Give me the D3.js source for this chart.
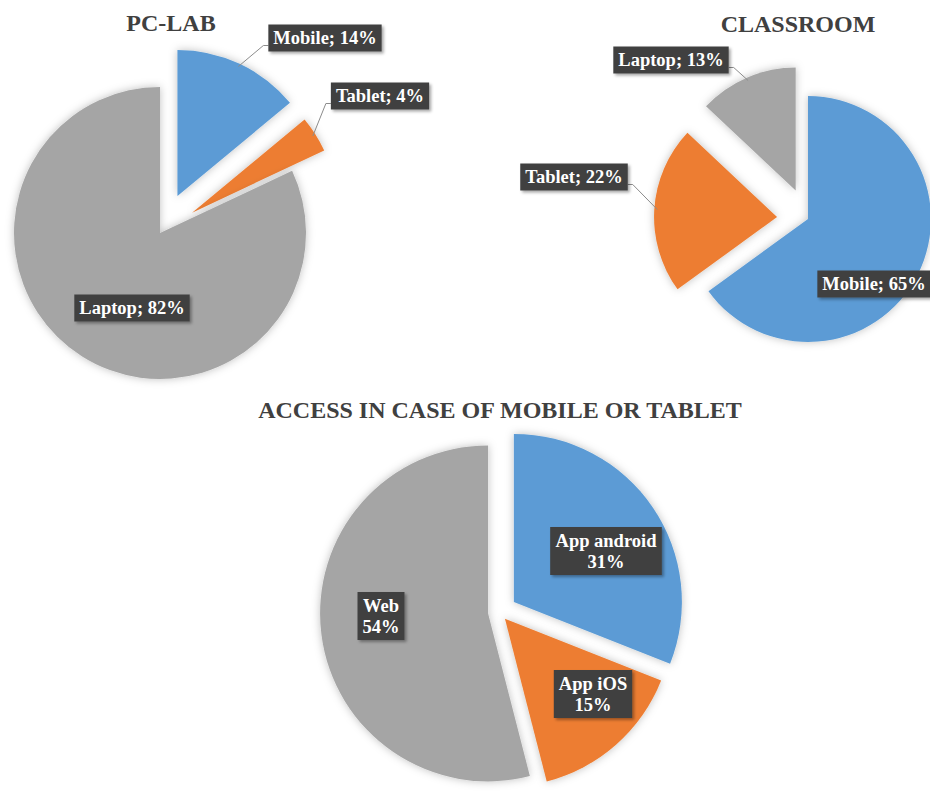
<!DOCTYPE html>
<html>
<head>
<meta charset="utf-8">
<script src="https://cdn.jsdelivr.net/npm/d3@7"></script>
<style>
  body { margin: 0; background: #fff; }
  svg { display: block; font-family: "Liberation Serif", "Times New Roman", serif; }
</style>
</head>
<body>
<div id="chart"></div>
<script>
// data
const pcLabCategories = ["Mobile", "Tablet", "Laptop"];
const pcLabValues = [14, 4, 82];
const classroomCategories = ["Mobile", "Tablet", "Laptop"];
const classroomValues = [65, 22, 13];
const accessCategories = ["App android", "App iOS", "Web"];
const accessValues = [31, 15, 54];

const colors = { "Mobile": "#5b9bd5", "Tablet": "#ed7d31", "Laptop": "#a5a5a5",
                 "App android": "#5b9bd5", "App iOS": "#ed7d31", "Web": "#a5a5a5" };

var width = 930, height = 792;
var svg = d3.select("#chart").append("svg")
    .attr("width", width)
    .attr("height", height);

var defs = svg.append("defs");
defs.append("filter").attr("id", "pieShadow")
    .attr("x", "-20%").attr("y", "-20%").attr("width", "140%").attr("height", "140%")
    .append("feDropShadow")
    .attr("dx", 0).attr("dy", 0).attr("stdDeviation", 4)
    .attr("flood-color", "#000").attr("flood-opacity", 0.25);
defs.append("filter").attr("id", "boxShadow")
    .attr("x", "-20%").attr("y", "-30%").attr("width", "140%").attr("height", "160%")
    .append("feDropShadow")
    .attr("dx", 2).attr("dy", 2).attr("stdDeviation", 1.5)
    .attr("flood-color", "#000").attr("flood-opacity", 0.35);

function pieChart(opts) {
    var data = opts.categories.map((c, i) => ({ name: c, value: opts.values[i] }));
    var pie = d3.pie().sort(null).value(d => d.value);
    var arc = d3.arc().innerRadius(0).outerRadius(opts.r);
    var arcs = pie(data);
    var g = svg.append("g").attr("transform", "translate(" + opts.cx + "," + opts.cy + ")");

    // offset of a slice along its middle angle
    function shift(d, i) {
        var mid = (d.startAngle + d.endAngle) / 2;
        var e = opts.explode[i];
        return [e * Math.sin(mid), -e * Math.cos(mid)];
    }

    g.selectAll("path")
        .data(arcs)
        .enter()
        .append("path")
        .attr("d", arc)
        .attr("transform", (d, i) => "translate(" + shift(d, i) + ")")
        .attr("fill", d => colors[d.data.name])
        .attr("filter", "url(#pieShadow)");

    svg.append("text")
        .attr("x", opts.titleX)
        .attr("y", opts.titleY)
        .attr("text-anchor", "middle")
        .attr("font-size", 24)
        .attr("font-weight", "bold")
        .attr("fill", "#404040")
        .text(opts.title);

    arcs.forEach((d, i) => {
        var lab = opts.labels[i];
        var lines = opts.twoLine ? [d.data.name, d.data.value + "%"] : [d.data.name + "; " + d.data.value + "%"];
        var lg = svg.append("g");
        var box = lg.append("rect").attr("fill", "#404040").attr("filter", "url(#boxShadow)");
        var lineH = 21;
        var txt = lg.append("text")
            .attr("text-anchor", "middle")
            .attr("font-size", 18.5)
            .attr("font-weight", "bold")
            .attr("fill", "#fff");
        lines.forEach((t, k) => {
            txt.append("tspan")
                .attr("x", lab.x)
                .attr("y", lab.y - (lines.length - 1) * lineH / 2 + k * lineH + 6)
                .text(t);
        });
        var bb = txt.node().getBBox();
        var bw = bb.width + 10, bh = lines.length * lineH + 6;
        var bx = lab.x - bw / 2, by = lab.y - bh / 2;
        box.attr("x", bx).attr("y", by).attr("width", bw).attr("height", bh);

        if (lab.leader) {
            // point on the outer edge of the slice
            var mid = (d.startAngle + d.endAngle) / 2;
            var s = shift(d, i);
            var px = opts.cx + s[0] + (opts.r - 3) * Math.sin(mid);
            var py = opts.cy + s[1] - (opts.r - 3) * Math.cos(mid);
            var left = lab.x > px;
            var ex = left ? bx : bx + bw;
            var ey = Math.max(by + 6, Math.min(by + bh - 6, py));
            var kx = left ? ex - 5 : ex + 5;
            lg.insert("path", "rect")
                .attr("d", "M" + px + "," + py + "L" + kx + "," + ey + "L" + ex + "," + ey)
                .attr("fill", "none")
                .attr("stroke", "#8c8c8c")
                .attr("stroke-width", 1);
        }
    });
}

pieChart({
    title: "PC-LAB", titleX: 171, titleY: 31,
    categories: pcLabCategories, values: pcLabValues,
    cx: 160, cy: 233, r: 146, explode: [41, 38, 0],
    labels: [{ x: 325, y: 38, leader: true }, { x: 380, y: 96, leader: true }, { x: 132, y: 308 }]
});

pieChart({
    title: "CLASSROOM", titleX: 798, titleY: 32,
    categories: classroomCategories, values: classroomValues,
    cx: 808, cy: 219, r: 123, explode: [0, 31, 31],
    labels: [{ x: 874, y: 284 }, { x: 574, y: 177, leader: true }, { x: 671, y: 60, leader: true }]
});

pieChart({
    title: "ACCESS IN CASE OF MOBILE OR TABLET", titleX: 500, titleY: 418,
    categories: accessCategories, values: accessValues,
    cx: 499, cy: 612, r: 168, explode: [18, 9, 11], twoLine: true,
    labels: [{ x: 606, y: 551 }, { x: 593, y: 694 }, { x: 381, y: 616 }]
});
</script>
</body>
</html>
